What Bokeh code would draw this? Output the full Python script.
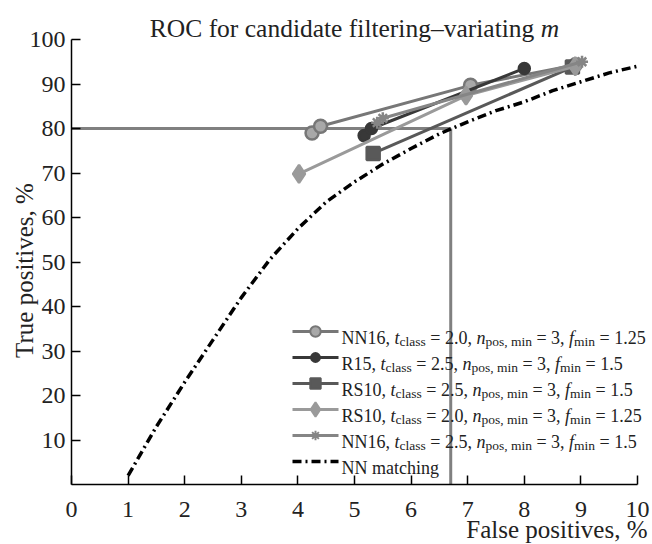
import math
from bokeh.plotting import figure
from bokeh.models import Range1d, Label, FixedTicker, LinearAxis
from bokeh.embed import file_html
from bokeh.resources import INLINE

# ---------------- data ----------------
x_ticks = [0, 1, 2, 3, 4, 5, 6, 7, 8, 9, 10]
y_ticks = [10, 20, 30, 40, 50, 60, 70, 80, 90, 100]

nn_match_fp = [1.0, 1.5, 2.0, 2.5, 3.0, 3.5, 4.0, 4.5, 5.0, 5.5, 6.0, 6.5, 7.0, 7.5, 8.0, 8.5, 9.0, 9.5, 10.0]
nn_match_tp = [2.0, 13.0, 23.0, 32.5, 42.0, 50.5, 57.5, 63.5, 68.0, 72.0, 75.5, 78.8, 81.5, 84.0, 86.0, 88.5, 90.5, 92.5, 94.0]

nn16_t20_fp = [4.25, 4.4, 7.05, 8.9]
nn16_t20_tp = [79.0, 80.5, 89.7, 94.3]

r15_t25_fp = [5.17, 5.3, 8.0]
r15_t25_tp = [78.4, 80.0, 93.5]

rs10_t25_fp = [5.33, 8.85]
rs10_t25_tp = [74.4, 93.8]

rs10_t20_fp = [4.02, 6.97, 8.9]
rs10_t20_tp = [69.8, 87.4, 94.0]

nn16_t25_fp = [5.4, 5.5, 9.02]
nn16_t25_tp = [81.3, 82.3, 95.0]

ref_tp = 80.0   # horizontal reference level
ref_fp = 6.7    # false-positive rate where NN matching reaches 80 %

x_lo, x_hi = 0, 10
y_lo, y_hi = 0, 100

# ---------------- layout ----------------
W, H = 652, 544
FL, FR, FT, FB = 71, 637, 39, 484   # where the axes box sits, page pixels
sx = (FR - FL) / (x_hi - x_lo)
sy = (FB - FT) / (y_hi - y_lo)

p = figure(width=W, height=H, output_backend="svg", toolbar_location=None,
           x_range=Range1d(x_lo - FL / sx, x_hi + (W - FR) / sx),
           y_range=Range1d(y_lo - (H - FB) / sy, y_hi + FT / sy),
           x_axis_type=None, y_axis_type=None,
           min_border=0, min_border_left=0, min_border_right=0,
           min_border_top=0, min_border_bottom=0)
p.extra_x_ranges = {"px": Range1d(0, W)}
p.extra_y_ranges = {"py": Range1d(H, 0)}
p.outline_line_color = None
p.grid.visible = False
p.background_fill_color = "white"
p.border_fill_color = "white"

SERIF = "Liberation Serif"
xax = LinearAxis(fixed_location=y_lo, bounds=(x_lo, x_hi), ticker=FixedTicker(ticks=x_ticks))
yax = LinearAxis(fixed_location=x_lo, bounds=(y_lo, y_hi), ticker=FixedTicker(ticks=y_ticks))
for ax in (xax, yax):
    ax.axis_line_color = "black"
    ax.axis_line_width = 1.5
    ax.major_tick_line_color = "black"
    ax.major_tick_line_width = 1.5
    ax.major_tick_in = 9
    ax.major_tick_out = 0
    ax.minor_tick_line_color = None
    ax.major_label_text_font = SERIF
    ax.major_label_text_font_size = "24px"
    ax.major_label_text_color = "#222222"
xax.major_label_standoff = 17
yax.major_label_standoff = 6
p.add_layout(xax, "below")
p.add_layout(yax, "left")

# ---------------- marks ----------------
ref_col = "#808080"
p.segment(x0=[x_lo], y0=[ref_tp], x1=[ref_fp], y1=[ref_tp], line_color=ref_col, line_width=3)
p.segment(x0=[ref_fp], y0=[ref_tp], x1=[ref_fp], y1=[y_lo], line_color=ref_col, line_width=3)

p.line(nn_match_fp, nn_match_tp, line_color="black", line_width=3.5, line_dash="9 4 2 4")

styles = [
    # (fp, tp, line colour, marker, fill, size)
    (nn16_t20_fp, nn16_t20_tp, "#777777", "circle", "#a8a8a8", 13),
    (r15_t25_fp, r15_t25_tp, "#383838", "circle", "#383838", 11),
    (rs10_t25_fp, rs10_t25_tp, "#595959", "square", "#595959", 13),
    (rs10_t20_fp, rs10_t20_tp, "#9a9a9a", "diamond", "#9a9a9a", 18),
    (nn16_t25_fp, nn16_t25_tp, "#858585", "asterisk", "#858585", 12),
]
for fp, tp, col, mk, fill, sz in styles:
    p.line(fp, tp, line_color=col, line_width=3)
    p.scatter(fp, tp, marker=mk, size=sz, line_color=col, fill_color=fill, line_width=2.5)

# ---------------- text helpers (Times / Liberation Serif metrics) ----------------
REG = {' ': 250, ',': 250, '.': 250, '%': 833, '=': 564, '–': 500,
       'C': 667, 'F': 556, 'N': 722, 'O': 722, 'R': 667, 'S': 556, 'T': 611,
       'a': 444, 'c': 444, 'd': 500, 'e': 444, 'f': 333, 'g': 500, 'h': 500, 'i': 278,
       'l': 278, 'm': 778, 'n': 500, 'o': 500, 'p': 500, 'r': 333, 's': 389, 't': 278,
       'u': 500, 'v': 500}
ITA = {'t': 278, 'n': 500, 'f': 278, 'm': 722}


def text_w(s, size, italic=False):
    tab = ITA if italic else REG
    return sum(tab.get(ch, 500) for ch in s) * size / 1000.0


def lab(x, y, text, size, italic=False, align="left", angle=0.0, color="#222222"):
    p.add_layout(Label(x=x, y=y, x_range_name="px", y_range_name="py", text=text,
                       text_font=SERIF, text_font_size=f"{size}px",
                       text_font_style="italic" if italic else "normal",
                       text_color=color, text_align=align, text_baseline="alphabetic",
                       angle=angle))


def rich(x, y, segs, main, sub):
    for txt, kind in segs:
        size = sub if kind == "sub" else main
        italic = kind == "it"
        dy = 4 if kind == "sub" else 0
        core = txt.strip(" ")
        lead = len(txt) - len(txt.lstrip(" "))
        x += lead * text_w(" ", size)
        if core:
            lab(x, y + dy, core, size, italic)
            x += text_w(core, size, italic)
        trail = len(txt) - len(txt.rstrip(" ")) if core else 0
        x += trail * text_w(" ", size)


# title
title_segs = [("ROC for candidate filtering–variating ", "n"), ("m", "it")]
TS = 25.5
tw = sum(text_w(t, TS, k == "it") for t, k in title_segs)
rich((FL + FR) / 2 - tw / 2, 28, title_segs, TS, TS)

# axis titles
lab(647, 529, "False positives, %", 25, align="right")
lab(24, 270, "True positives, %", 25, align="center", angle=math.pi / 2)

# ---------------- legend ----------------
def params(t, f):
    return [("t", "it"), ("class", "sub"), (f" = {t}, ", "n"), ("n", "it"), ("pos, min", "sub"),
            (" = 3, ", "n"), ("f", "it"), ("min", "sub"), (f" = {f}", "n")]

legend_rows = [
    ([("NN16, ", "n")] + params("2.0", "1.25"), styles[0]),
    ([("R15, ", "n")] + params("2.5", "1.5"), styles[1]),
    ([("RS10, ", "n")] + params("2.5", "1.5"), styles[2]),
    ([("RS10, ", "n")] + params("2.0", "1.25"), styles[3]),
    ([("NN16, ", "n")] + params("2.5", "1.5"), styles[4]),
]
row_y = [331, 357, 383, 409, 435, 461]
LX0, LX1, LXM, LXT = 292, 338, 315, 341
for (segs, st), ry in zip(legend_rows, row_y):
    _, _, col, mk, fill, sz = st
    p.line([LX0, LX1], [ry, ry], line_color=col, line_width=3, x_range_name="px", y_range_name="py")
    p.scatter([LXM], [ry], marker=mk, size=sz * 0.8, line_color=col, fill_color=fill, line_width=2,
              x_range_name="px", y_range_name="py")
    rich(LXT, ry + 6, segs, 18, 13.5)

p.line([LX0, LX1], [row_y[5], row_y[5]], line_color="black", line_width=3.5, line_dash="9 4 2 4",
       x_range_name="px", y_range_name="py")
rich(LXT, row_y[5] + 6, [("NN matching", "n")], 18, 13.5)

open("out.html", "w").write(file_html(p, INLINE))
